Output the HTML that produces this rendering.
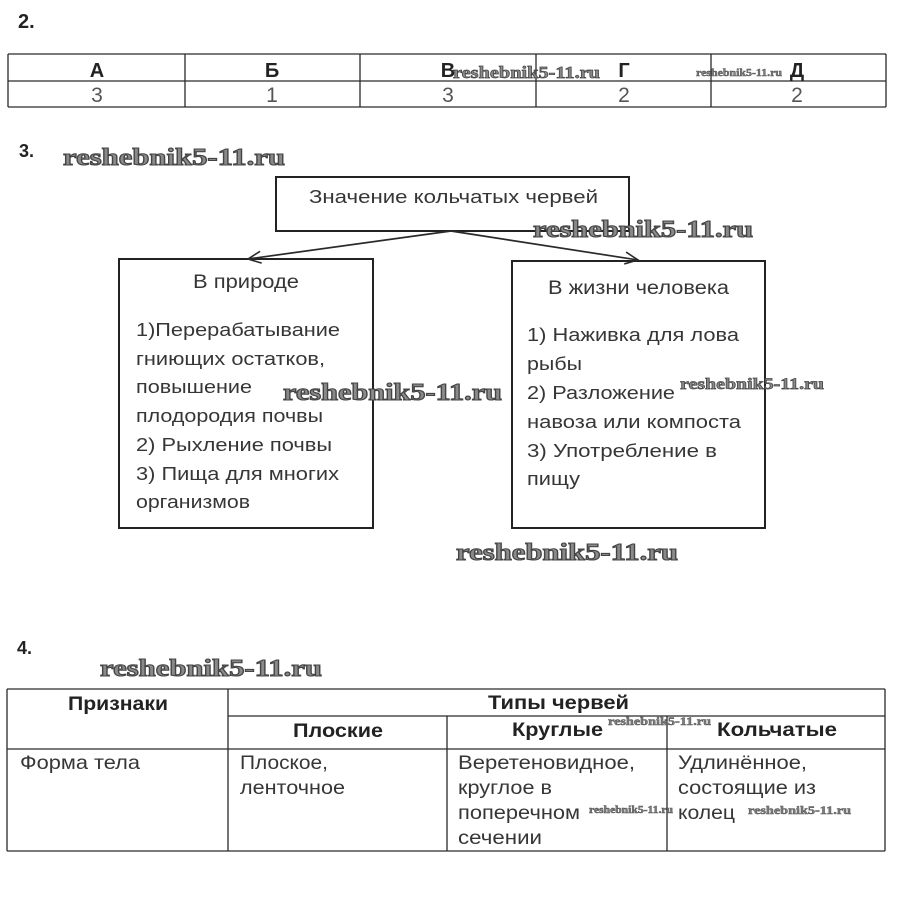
<!DOCTYPE html>
<html><head><meta charset="utf-8">
<style>
html,body{margin:0;padding:0;background:#fff;}
svg{display:block;}
.t{font-family:"Liberation Sans","DejaVu Sans",sans-serif;fill:#363636;}
.b{font-family:"Liberation Sans","DejaVu Sans",sans-serif;font-weight:bold;fill:#222;}
.n{font-family:"Liberation Sans","DejaVu Sans",sans-serif;fill:#555;}
.wm{font-family:"Liberation Serif","DejaVu Serif",serif;font-weight:bold;fill:#8a8a8a;stroke:#444;stroke-width:1.1;}
.ws{font-family:"Liberation Serif","DejaVu Serif",serif;font-weight:bold;fill:#808080;stroke:#555;stroke-width:0.5;}
</style></head>
<body>
<svg width="898" height="900" viewBox="0 0 898 900" xmlns="http://www.w3.org/2000/svg">
<defs>
<marker id="ah" markerUnits="userSpaceOnUse" markerWidth="16" markerHeight="16" refX="14" refY="7" orient="auto">
<path d="M1,1 L14,7 L1,13" fill="none" stroke="#2a2a2a" stroke-width="1.6"/>
</marker>
</defs>
<rect width="898" height="900" fill="#fff"/>

<!-- Section 2 -->
<text class="b" x="18" y="28" font-size="20">2.</text>
<g stroke="#2a2a2a" stroke-width="1.3" fill="none">
<line x1="8" y1="54" x2="886" y2="54"/>
<line x1="8" y1="81" x2="886" y2="81"/>
<line x1="8" y1="107" x2="886" y2="107"/>
<line x1="8" y1="54" x2="8" y2="107"/>
<line x1="886" y1="54" x2="886" y2="107"/>
<line x1="185" y1="54" x2="185" y2="107"/>
<line x1="360" y1="54" x2="360" y2="107"/>
<line x1="536" y1="54" x2="536" y2="107"/>
<line x1="711" y1="54" x2="711" y2="107"/>
</g>
<g text-anchor="middle">
<text class="b" x="97" y="77" font-size="20">А</text>
<text class="b" x="272" y="77" font-size="20">Б</text>
<text class="b" x="448" y="77" font-size="20">В</text>
<text class="b" x="624" y="77" font-size="20">Г</text>
<text class="b" x="797" y="77" font-size="20">Д</text>
<text class="n" x="97" y="102" font-size="21">3</text>
<text class="n" x="272" y="102" font-size="21">1</text>
<text class="n" x="448" y="102" font-size="21">3</text>
<text class="n" x="624" y="102" font-size="21">2</text>
<text class="n" x="797" y="102" font-size="21">2</text>
</g>
<text class="wm" x="453" y="78" font-size="17" textLength="147" lengthAdjust="spacingAndGlyphs" style="stroke-width:0.7">reshebnik5-11.ru</text>
<text class="ws" x="696" y="76" font-size="11" textLength="86" lengthAdjust="spacingAndGlyphs">reshebnik5-11.ru</text>

<!-- Section 3 -->
<text class="b" x="19" y="157" font-size="18">3.</text>
<text class="wm" x="63" y="165" font-size="24" textLength="222" lengthAdjust="spacingAndGlyphs">reshebnik5-11.ru</text>

<g stroke="#222" stroke-width="2" fill="none">
<rect x="276" y="177" width="353" height="54"/>
<rect x="119" y="259" width="254" height="269"/>
<rect x="512" y="261" width="253" height="267"/>
</g>
<g stroke="#2a2a2a" stroke-width="1.7" fill="none">
<line x1="451" y1="231" x2="248" y2="259" marker-end="url(#ah)"/>
<line x1="451" y1="231" x2="638" y2="260" marker-end="url(#ah)"/>
</g>

<text class="t" x="309" y="203" font-size="18.5" textLength="289" lengthAdjust="spacingAndGlyphs">Значение кольчатых червей</text>
<text class="wm" x="533" y="237" font-size="24" textLength="220" lengthAdjust="spacingAndGlyphs">reshebnik5-11.ru</text>

<text class="t" x="193" y="288" font-size="19" textLength="106" lengthAdjust="spacingAndGlyphs">В природе</text>
<text class="t" x="548" y="294" font-size="19" textLength="181" lengthAdjust="spacingAndGlyphs">В жизни человека</text>

<g font-size="18.5">
<text class="t" x="136" y="336" textLength="204" lengthAdjust="spacingAndGlyphs">1)Перерабатывание</text>
<text class="t" x="136" y="365" textLength="189" lengthAdjust="spacingAndGlyphs">гниющих остатков,</text>
<text class="t" x="136" y="393" textLength="116" lengthAdjust="spacingAndGlyphs">повышение</text>
<text class="t" x="136" y="422" textLength="187" lengthAdjust="spacingAndGlyphs">плодородия почвы</text>
<text class="t" x="136" y="451" textLength="196" lengthAdjust="spacingAndGlyphs">2) Рыхление почвы</text>
<text class="t" x="136" y="480" textLength="203" lengthAdjust="spacingAndGlyphs">3) Пища для многих</text>
<text class="t" x="136" y="508" textLength="114" lengthAdjust="spacingAndGlyphs">организмов</text>

<text class="t" x="527" y="341" textLength="212" lengthAdjust="spacingAndGlyphs">1) Наживка для лова</text>
<text class="t" x="527" y="370" textLength="55" lengthAdjust="spacingAndGlyphs">рыбы</text>
<text class="t" x="527" y="399" textLength="148" lengthAdjust="spacingAndGlyphs">2) Разложение</text>
<text class="t" x="527" y="428" textLength="214" lengthAdjust="spacingAndGlyphs">навоза или компоста</text>
<text class="t" x="527" y="457" textLength="190" lengthAdjust="spacingAndGlyphs">3) Употребление в</text>
<text class="t" x="527" y="485" textLength="53" lengthAdjust="spacingAndGlyphs">пищу</text>
</g>

<text class="wm" x="283" y="400" font-size="24" textLength="219" lengthAdjust="spacingAndGlyphs">reshebnik5-11.ru</text>
<text class="wm" x="680" y="389" font-size="16" textLength="144" lengthAdjust="spacingAndGlyphs" style="stroke-width:0.7">reshebnik5-11.ru</text>
<text class="wm" x="456" y="560" font-size="24" textLength="222" lengthAdjust="spacingAndGlyphs">reshebnik5-11.ru</text>

<!-- Section 4 -->
<text class="b" x="17" y="654" font-size="18">4.</text>
<text class="wm" x="100" y="676" font-size="24" textLength="222" lengthAdjust="spacingAndGlyphs">reshebnik5-11.ru</text>

<g stroke="#2a2a2a" stroke-width="1.3" fill="none">
<line x1="7" y1="689" x2="885" y2="689"/>
<line x1="228" y1="716" x2="885" y2="716"/>
<line x1="7" y1="749" x2="885" y2="749"/>
<line x1="7" y1="851" x2="885" y2="851"/>
<line x1="7" y1="689" x2="7" y2="851"/>
<line x1="885" y1="689" x2="885" y2="851"/>
<line x1="228" y1="689" x2="228" y2="851"/>
<line x1="447" y1="716" x2="447" y2="851"/>
<line x1="667" y1="716" x2="667" y2="851"/>
</g>

<g font-size="19.5">
<text class="b" x="68" y="710" textLength="100" lengthAdjust="spacingAndGlyphs">Признаки</text>
<text class="b" x="488" y="709" textLength="141" lengthAdjust="spacingAndGlyphs">Типы червей</text>
<text class="b" x="293" y="737" textLength="90" lengthAdjust="spacingAndGlyphs">Плоские</text>
<text class="b" x="512" y="736" textLength="91" lengthAdjust="spacingAndGlyphs">Круглые</text>
<text class="b" x="717" y="736" textLength="120" lengthAdjust="spacingAndGlyphs">Кольчатые</text>
</g>

<g font-size="19.5">
<text class="t" x="20" y="769" textLength="120" lengthAdjust="spacingAndGlyphs">Форма тела</text>
<text class="t" x="240" y="769" textLength="88" lengthAdjust="spacingAndGlyphs">Плоское,</text>
<text class="t" x="240" y="794" textLength="105" lengthAdjust="spacingAndGlyphs">ленточное</text>
<text class="t" x="458" y="769" textLength="177" lengthAdjust="spacingAndGlyphs">Веретеновидное,</text>
<text class="t" x="458" y="794" textLength="94" lengthAdjust="spacingAndGlyphs">круглое в</text>
<text class="t" x="458" y="819" textLength="122" lengthAdjust="spacingAndGlyphs">поперечном</text>
<text class="t" x="458" y="844" textLength="84" lengthAdjust="spacingAndGlyphs">сечении</text>
<text class="t" x="678" y="769" textLength="129" lengthAdjust="spacingAndGlyphs">Удлинённое,</text>
<text class="t" x="678" y="794" textLength="138" lengthAdjust="spacingAndGlyphs">состоящие из</text>
<text class="t" x="678" y="819" textLength="57" lengthAdjust="spacingAndGlyphs">колец</text>
</g>

<text class="ws" x="608" y="725" font-size="12" textLength="103" lengthAdjust="spacingAndGlyphs">reshebnik5-11.ru</text>
<text class="ws" x="589" y="813" font-size="10" textLength="84" lengthAdjust="spacingAndGlyphs">reshebnik5-11.ru</text>
<text class="ws" x="748" y="814" font-size="12" textLength="103" lengthAdjust="spacingAndGlyphs">reshebnik5-11.ru</text>
</svg>
</body></html>
